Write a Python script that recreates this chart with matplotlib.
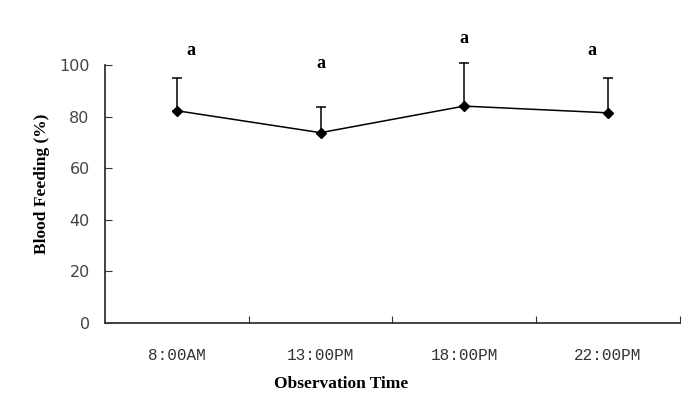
import matplotlib.pyplot as plt
import numpy as np

# data
times = ["8:00AM", "13:00PM", "18:00PM", "22:00PM"]
feeding = [82.3, 73.8, 84.1, 81.5]
feeding_err = [12.8, 9.9, 16.9, 13.6]
letters = ["a", "a", "a", "a"]
letter_y = [105.5, 100.6, 110.3, 105.5]
letter_dx = [0.10, 0.0, 0.0, -0.11]

fig = plt.figure(figsize=(7, 4.12), dpi=100)
ax = fig.add_axes([0.15, 0.216, 0.821, 0.626])

x = np.arange(len(times))
ax.errorbar(x, feeding, yerr=[np.zeros(len(x)), feeding_err], color='black',
            lw=1.1, elinewidth=1.1, capsize=3.5, capthick=1.1,
            marker='D', markersize=5, clip_on=False, zorder=3)

for xi, dx, yl, t in zip(x, letter_dx, letter_y, letters):
    ax.text(xi + dx, yl, t, ha='center', va='center', fontsize=13,
            fontweight='bold', family='Liberation Serif', clip_on=False)

ax.set_xlim(-0.5, len(times) - 0.5)
ax.set_ylim(0, 100)
ax.set_yticks(np.arange(0, 101, 20))
ax.set_xticks(x + 0.5)
ax.set_xticklabels([])
ax.set_xticks(x, minor=True)
ax.set_xticklabels(times, minor=True, family='Liberation Mono', fontsize=11.5, color='#333333')
ax.tick_params(axis='x', which='minor', length=0, pad=18)
ax.tick_params(axis='x', which='major', direction='in', length=5, color='#333333')
ax.tick_params(axis='y', direction='in', length=5, pad=11, labelsize=11.5,
               labelcolor='#444444', color='#333333')

for s in ['top', 'right']:
    ax.spines[s].set_visible(False)
for s in ['left', 'bottom']:
    ax.spines[s].set_color('#333333')
    ax.spines[s].set_linewidth(1.3)

ax.set_ylabel("Blood Feeding (%)", family='Liberation Serif', fontweight='bold', fontsize=12.5)
ax.yaxis.set_label_coords(-0.096, 0.54)
ax.set_xlabel("Observation Time", family='Liberation Serif', fontweight='bold', fontsize=12.5)
ax.xaxis.set_label_coords(0.41, -0.207)

fig.savefig("out.png", dpi=100)
